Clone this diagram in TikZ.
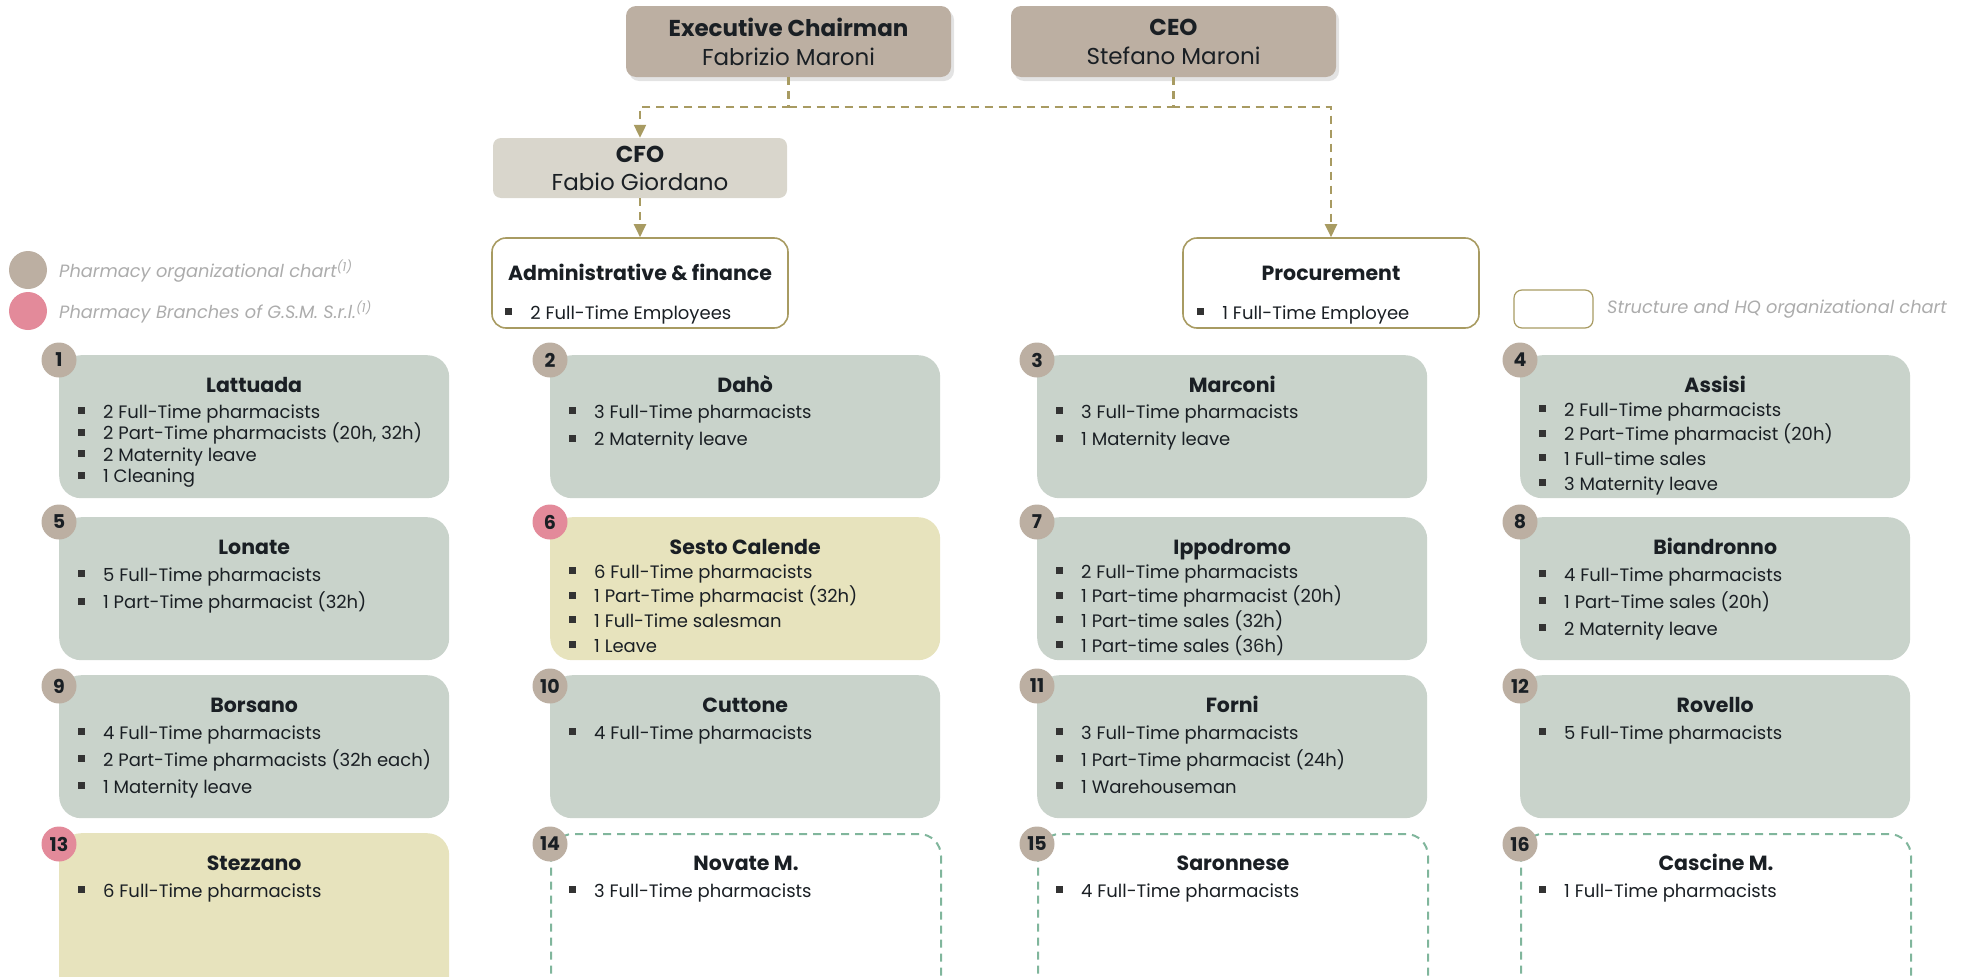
\documentclass[tikz,border=0pt]{standalone}
\usepackage{fontspec}
\setmainfont{Poppins}
\usetikzlibrary{arrows.meta, positioning, shadows}
\definecolor{sage}{RGB}{201,211,203}
\definecolor{straw}{RGB}{231,227,189}
\definecolor{taupe}{RGB}{188,175,162}
\definecolor{stone}{RGB}{217,214,204}
\definecolor{gold}{RGB}{168,155,98}
\definecolor{rose}{RGB}{227,138,154}
\definecolor{mint}{RGB}{128,182,156}
\definecolor{ink}{RGB}{26,31,36}
\definecolor{mist}{RGB}{172,172,172}
\newcommand\sq{\makebox[25pt][l]{\textcolor{black!80}{\rule[4pt]{7pt}{7pt}}}}

\begin{document}
\begin{tikzpicture}[x=1pt, y=-1pt,
  every node/.style={text=ink},
  head/.style={rounded corners=10pt, fill=taupe, minimum width=325pt, minimum height=71pt, align=center, font=\fontsize{23}{29}\selectfont, drop shadow={shadow xshift=3pt, shadow yshift=-4pt, opacity=0.22}},
  cfobox/.style={rounded corners=8pt, fill=stone, minimum width=294pt, minimum height=60pt, align=center, font=\fontsize{23}{28}\selectfont},
  office/.style={draw=gold, line width=1.6pt, rounded corners=14pt, fill=white, minimum width=296pt, minimum height=90pt},
  shop/.style={fill=sage, rounded corners=22pt, anchor=north west, minimum width=390pt, minimum height=143pt, inner sep=0pt},
  branch/.style={shop, fill=straw},
  planned/.style={shop, fill=white, draw=mint, line width=2pt, dash pattern=on 8pt off 6pt},
  badge/.style={circle, fill=taupe, minimum size=35pt, inner sep=0pt, font=\fontsize{19}{19}\selectfont\bfseries},
  gsm/.style={badge, fill=rose},
  title/.style={anchor=base, inner sep=0pt, font=\fontsize{20.5}{20.5}\selectfont\bfseries},
  item/.style={anchor=base west, inner sep=0pt, font=\fontsize{18}{18}\selectfont},
  note/.style={anchor=west, inner sep=0pt, text=mist, font=\fontsize{17.8}{17.8}\selectfont\itshape},
  link/.style={draw=gold, line width=2.2pt, dash pattern=on 8pt off 6pt},
  tip/.style={-{Triangle[length=13pt, width=12pt]}}
]
\useasboundingbox (0,0) rectangle (1968,977);
\clip (0,0) rectangle (1968,977);

% management
\node[head] (exec) at (788.5,41.5) {{\bfseries Executive Chairman}\\Fabrizio Maroni};
\node[head] (ceo) at (1173.5,41.5) {{\bfseries CEO}\\Stefano Maroni};
\node[cfobox] (cfo) at (640,168) {{\bfseries CFO}\\Fabio Giordano};
\node[office] (admin) at (640,283) {};
\node[office] (proc) at (1331,283) {};
\node[title] (admint) at ([yshift=-43pt]admin.north) {Administrative \& finance};
\node[item] (admini) at ([shift={(14,82)}]admin.north west) {\sq 2 Full-Time Employees};
\node[title] (proct) at ([yshift=-43pt]proc.north) {Procurement};
\node[item] (proci) at ([shift={(15,82)}]proc.north west) {\sq 1 Full-Time Employee};

\coordinate (bus) at (0,107);
\draw[link, tip] (exec.south) -- (exec.south |- bus) -| (cfo.north);
\draw[link] (exec.south |- bus) -- (ceo.south |- bus);
\draw[link, tip] (ceo.south) -- (ceo.south |- bus) -| (proc.north);
\draw[link, tip] (cfo) -- (admin);

% legend
\node[circle, fill=taupe, minimum size=38pt] (key1) at (28,270) {};
\node[circle, fill=rose, minimum size=38pt] (key2) at (28,311) {};
\node[note] (key1t) at (59,271) {Pharmacy organizational chart\textsuperscript{(1)}};
\node[note] (key2t) at (59,312) {Pharmacy Branches of G.S.M. S.r.l.\textsuperscript{(1)}};
\node[draw=gold, line width=1.2pt, rounded corners=8pt, minimum width=79pt, minimum height=38pt] (key3) at (1553.5,309) {};
\node[note] (key3t) at (1607,309) {Structure and HQ organizational chart};

% row 1
\node[shop] (b1) at (59,355) {};
\node[shop] (b2) at (550,355) {};
\node[shop] (b3) at (1037,355) {};
\node[shop] (b4) at (1520,355) {};
% row 2
\node[shop] (b5) at (59,517) {};
\node[branch] (b6) at (550,517) {};
\node[shop] (b7) at (1037,517) {};
\node[shop] (b8) at (1520,517) {};
% row 3
\node[shop] (b9) at (59,675) {};
\node[shop] (b10) at (550,675) {};
\node[shop] (b11) at (1037,675) {};
\node[shop] (b12) at (1520,675) {};
% row 4
\node[branch, minimum height=175pt] (b13) at (59,833) {};
\node[planned, minimum height=175pt] (b14) at (550,833) {};
\node[planned, minimum height=175pt] (b15) at (1037,833) {};
\node[planned, minimum height=175pt] (b16) at (1520,833) {};

% badges and titles
\foreach \n/\s/\dy/\name in {1/badge/5/Lattuada, 2/badge/5/Dahò, 3/badge/5/Marconi, 4/badge/5/Assisi,
    5/badge/5/Lonate, 6/gsm/5/Sesto Calende, 7/badge/5/Ippodromo, 8/badge/5/Biandronno,
    9/badge/11/Borsano, 10/badge/11/Cuttone, 11/badge/11/Forni, 12/badge/11/Rovello,
    13/gsm/11/Stezzano, 14/badge/11/Novate M., 15/badge/11/Saronnese, 16/badge/11/Cascine M.} {
  \node[\s] (n\n) at ([shift={(0,\dy)}]b\n.north west) {\n};
  \node[title] (t\n) at ([shift={(0,37)}]b\n.north) {\name};
}

% staff lists
\foreach \t [count=\i from 0] in {2 Full-Time pharmacists, {2 Part-Time pharmacists (20h, 32h)}, 2 Maternity leave, 1 Cleaning}
  \node[item] (b1i\i) at ([shift={(19,63+21.5*\i)}]b1.north west) {\sq\t};
\foreach \t [count=\i from 0] in {3 Full-Time pharmacists, 2 Maternity leave}
  \node[item] (b2i\i) at ([shift={(19,63+27.5*\i)}]b2.north west) {\sq\t};
\foreach \t [count=\i from 0] in {3 Full-Time pharmacists, 1 Maternity leave}
  \node[item] (b3i\i) at ([shift={(19,63+27.5*\i)}]b3.north west) {\sq\t};
\foreach \t [count=\i from 0] in {2 Full-Time pharmacists, 2 Part-Time pharmacist (20h), 1 Full-time sales, 3 Maternity leave}
  \node[item] (b4i\i) at ([shift={(19,61+24.7*\i)}]b4.north west) {\sq\t};
\foreach \t [count=\i from 0] in {5 Full-Time pharmacists, 1 Part-Time pharmacist (32h)}
  \node[item] (b5i\i) at ([shift={(19,64+27.5*\i)}]b5.north west) {\sq\t};
\foreach \t [count=\i from 0] in {6 Full-Time pharmacists, 1 Part-Time pharmacist (32h), 1 Full-Time salesman, 1 Leave}
  \node[item] (b6i\i) at ([shift={(19,61+24.7*\i)}]b6.north west) {\sq\t};
\foreach \t [count=\i from 0] in {2 Full-Time pharmacists, 1 Part-time pharmacist (20h), 1 Part-time sales (32h), 1 Part-time sales (36h)}
  \node[item] (b7i\i) at ([shift={(19,61+24.7*\i)}]b7.north west) {\sq\t};
\foreach \t [count=\i from 0] in {4 Full-Time pharmacists, 1 Part-Time sales (20h), 2 Maternity leave}
  \node[item] (b8i\i) at ([shift={(19,64+27*\i)}]b8.north west) {\sq\t};
\foreach \t [count=\i from 0] in {4 Full-Time pharmacists, 2 Part-Time pharmacists (32h each), 1 Maternity leave}
  \node[item] (b9i\i) at ([shift={(19,64+27*\i)}]b9.north west) {\sq\t};
\node[item] (b10i0) at ([shift={(19,64)}]b10.north west) {\sq 4 Full-Time pharmacists};
\foreach \t [count=\i from 0] in {3 Full-Time pharmacists, 1 Part-Time pharmacist (24h), 1 Warehouseman}
  \node[item] (b11i\i) at ([shift={(19,64+27*\i)}]b11.north west) {\sq\t};
\node[item] (b12i0) at ([shift={(19,64)}]b12.north west) {\sq 5 Full-Time pharmacists};
\node[item] (b13i0) at ([shift={(19,64)}]b13.north west) {\sq 6 Full-Time pharmacists};
\node[item] (b14i0) at ([shift={(19,64)}]b14.north west) {\sq 3 Full-Time pharmacists};
\node[item] (b15i0) at ([shift={(19,64)}]b15.north west) {\sq 4 Full-Time pharmacists};
\node[item] (b16i0) at ([shift={(19,64)}]b16.north west) {\sq 1 Full-Time pharmacists};
\end{tikzpicture}
\end{document}
